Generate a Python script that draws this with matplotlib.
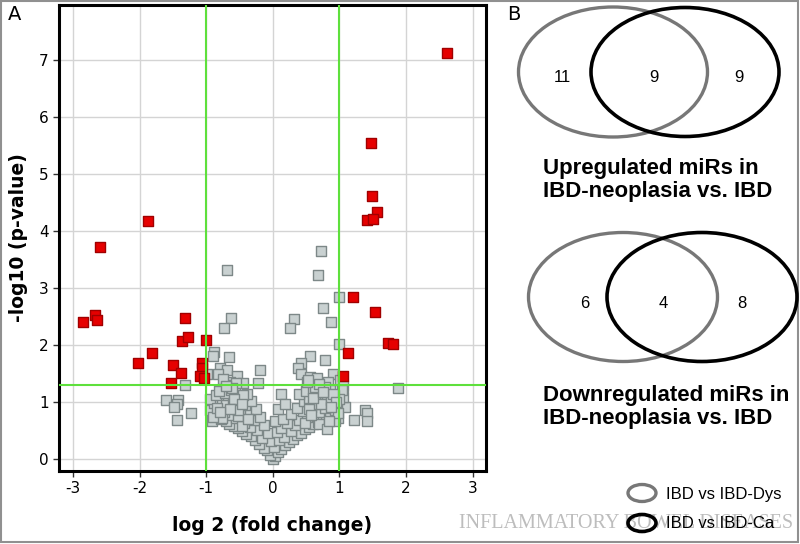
import matplotlib.pyplot as plt
from matplotlib.patches import Ellipse, Rectangle

plt.rcParams['axes.unicode_minus'] = False

# significant miRs (red)
red_x = [2.61, 1.47, 1.49, 1.57, 1.41, 1.50, -1.88, -2.59, 1.20,
         -2.85, -2.67, -2.64, -1.32, -1.36, -1.27, -1.00, -1.82, -2.03,
         -1.50, -1.38, -1.53, -1.06, -1.07, -1.10, -1.04, 1.53, 1.73,
         1.80, 1.13, 1.05]
red_y = [7.12, 5.55, 4.61, 4.33, 4.20, 4.22, 4.17, 3.73, 2.84,
         2.41, 2.53, 2.44, 2.48, 2.07, 2.14, 2.09, 1.86, 1.69,
         1.65, 1.51, 1.34, 1.69, 1.60, 1.46, 1.42, 2.58, 2.04,
         2.02, 1.86, 1.46]

# not significant (grey): isolated points
grey_x = [-0.69, 0.72, 0.68, 0.99, 0.75, -0.63, -0.74, 0.32, 0.26, 0.88,
          0.99, -0.88, -0.90, -0.66, 0.56, 0.78, 0.42, 0.38, -0.20, -0.80,
          -0.69, -0.83, -0.54, -0.99, -0.22, -0.45, -0.65, 0.43, 0.56, 0.90,
          1.01, 0.83, 1.05, -1.32, 1.88, 0.13, -1.60, -1.42, -1.44, -1.49,
          -1.23, -1.44, 1.38, 1.41, 1.41, 1.22, 1.08, 1.05, 1.04, 0.98,
          -0.92, -0.83, -0.77]
grey_y = [3.32, 3.65, 3.23, 2.85, 2.65, 2.48, 2.30, 2.46, 2.30, 2.41,
          2.02, 1.88, 1.80, 1.79, 1.80, 1.74, 1.69, 1.60, 1.56, 1.60,
          1.56, 1.49, 1.46, 1.49, 1.33, 1.33, 1.36, 1.49, 1.44, 1.49,
          1.39, 1.36, 1.28, 1.30, 1.24, 1.14, 1.04, 1.04, 0.97, 0.92,
          0.81, 0.69, 0.86, 0.81, 0.66, 0.69, 0.92, 1.09, 1.21, 0.72,
          0.66, 0.94, 1.09]

# dense V-shaped core
core_x = [0.00, 0.04, -0.04, 0.08, -0.09, 0.13, -0.14, 0.02, 0.19, -0.21,
          0.24, -0.03, 0.09, -0.27, 0.30, -0.16, 0.17, -0.33, 0.36, -0.40,
          0.42, -0.08, 0.06, -0.46, 0.27, -0.24, 0.48, -0.52, 0.12, -0.35,
          0.55, -0.58, 0.33, -0.13, 0.61, -0.66, 0.22, -0.44, 0.68, -0.71,
          0.04, 0.40, -0.29, 0.74, -0.78, 0.15, -0.55, 0.51, -0.19, 0.80,
          -0.84, 0.60, -0.62, 0.28, -0.38, 0.86, -0.90, 0.70, -0.74, 0.45,
          -0.50, 0.93, -0.95, 0.08, -0.26, 0.36, 0.78, -0.82, 0.58, -0.65,
          0.96, -0.42, 0.19, 0.66, -0.88, 0.88, -0.58, 0.47, -0.33, 0.72,
          -0.76, 0.99, -0.94, 0.55, -0.48, 0.82, -0.68, 0.64, -0.85, 0.92,
          -0.39, 0.39, -0.72, 0.75, -0.57, 0.50, -0.81, 0.86, -0.63, 0.61,
          -0.46, 0.69, -0.77, 0.94, -0.53, 0.81, -0.70, 0.55, -0.90, 0.98,
          -0.60, 0.73, -0.45, 0.63, -0.84, 0.88, -0.67, 0.52, -0.75, 0.79,
          -0.56, 0.67, -0.38, 0.90, -0.62, 0.48, -0.52, 0.58, 0.84, -0.70,
          -0.58, 0.70, 0.95, -0.47, 0.60, -0.64, 0.76, 0.53, -0.80, 0.87]
core_y = [0.00, 0.05, 0.07, 0.12, 0.15, 0.18, 0.20, 0.22, 0.25, 0.26,
          0.30, 0.31, 0.33, 0.34, 0.36, 0.37, 0.38, 0.40, 0.42, 0.44,
          0.45, 0.46, 0.48, 0.49, 0.50, 0.51, 0.52, 0.54, 0.55, 0.56,
          0.57, 0.58, 0.59, 0.60, 0.61, 0.62, 0.63, 0.64, 0.65, 0.66,
          0.67, 0.68, 0.69, 0.70, 0.70, 0.71, 0.72, 0.73, 0.74, 0.75,
          0.76, 0.77, 0.78, 0.79, 0.80, 0.80, 0.81, 0.82, 0.83, 0.84,
          0.85, 0.86, 0.86, 0.87, 0.88, 0.89, 0.90, 0.91, 0.92, 0.93,
          0.94, 0.95, 0.96, 0.97, 0.98, 0.99, 1.00, 1.01, 1.02, 1.03,
          1.04, 1.05, 1.06, 1.07, 1.08, 1.09, 1.10, 1.11, 1.12, 1.13,
          1.14, 1.15, 1.16, 1.17, 1.18, 1.19, 1.20, 1.21, 1.22, 1.23,
          0.58, 0.62, 0.72, 0.66, 0.76, 0.52, 0.94, 0.88, 0.74, 0.80,
          0.98, 0.96, 1.12, 1.26, 0.90, 1.04, 1.30, 1.36, 1.40, 1.27,
          1.34, 1.42, 0.70, 1.14, 1.24, 0.64, 0.86, 0.78, 0.66, 1.28,
          1.06, 1.32, 1.00, 0.96, 1.08, 0.88, 1.18, 1.38, 0.82, 0.92]

grey_x = grey_x + core_x
grey_y = grey_y + core_y

venn_up = ['11', '9', '9']
venn_down = ['6', '4', '8']
legend_labels = ['IBD vs IBD-Dys', 'IBD vs IBD-Ca']

fig = plt.figure(figsize=(8, 5.44), dpi=100)
ax = fig.add_axes([59 / 800, 1 - 471 / 544, 427 / 800, 466 / 544])

ax.scatter(grey_x, grey_y, marker='s', s=62, c='#c9d1d1', edgecolors='#7d8888',
           linewidths=1.0, zorder=3)
ax.scatter(red_x, red_y, marker='s', s=62, c='#e60000', edgecolors='#a00000',
           linewidths=1.0, zorder=4)

ax.axvline(-1, color='#5ee03c', lw=1.5, zorder=5)
ax.axvline(1, color='#5ee03c', lw=1.5, zorder=5)
ax.axhline(1.3, color='#5ee03c', lw=1.5, zorder=5)

ax.set_xlim(-3.21, 3.2)
ax.set_ylim(-0.21, 7.97)
ax.set_xticks(range(-3, 4))
ax.set_yticks(range(0, 8))
ax.grid(True, color='#d4d4d4', lw=1.0, zorder=0)
ax.set_axisbelow(True)
for s in ax.spines.values():
    s.set_linewidth(2.2)
    s.set_color('black')
ax.tick_params(direction='out', length=4, width=1, labelsize=11, color='#333333')
ax.set_xlabel('log 2 (fold change)', fontsize=13.5, fontweight='bold', labelpad=14)
ax.set_ylabel('-log10 (p-value)', fontsize=13.5, fontweight='bold', labelpad=8)

# overlay in pixel coordinates for panel B, labels and frame
ov = fig.add_axes([0, 0, 1, 1], zorder=10)
ov.set_xlim(0, 800)
ov.set_ylim(544, 0)
ov.axis('off')
ov.patch.set_alpha(0)

ov.add_patch(Rectangle((1, 1), 797, 541, fill=False, ec='#909090', lw=1.5))
ov.text(8, 14, 'A', fontsize=14, va='center', ha='left')
ov.text(507, 14, 'B', fontsize=14, va='center', ha='left')

sans = 'Liberation Sans'
gray_c = '#777777'

# upregulated venn
ov.add_patch(Ellipse((613, 72), 189, 130, fill=False, ec=gray_c, lw=2.4))
ov.add_patch(Ellipse((685, 72), 188, 129, fill=False, ec='black', lw=2.6))
for xp, t in zip([562, 654, 739], venn_up):
    ov.text(xp, 78, t, fontsize=12, family=sans, ha='center', va='center')
ov.text(543, 180, 'Upregulated miRs in\nIBD-neoplasia vs. IBD', fontsize=16,
        family=sans, fontweight='bold', ha='left', va='center', linespacing=1.15)

# downregulated venn
ov.add_patch(Ellipse((623, 297), 189, 129, fill=False, ec=gray_c, lw=2.4))
ov.add_patch(Ellipse((702, 297), 190, 129, fill=False, ec='black', lw=2.6))
for xp, t in zip([585, 663, 742], venn_down):
    ov.text(xp, 303, t, fontsize=12, family=sans, ha='center', va='center')
ov.text(543, 407, 'Downregulated miRs in\nIBD-neoplasia vs. IBD', fontsize=16,
        family=sans, fontweight='bold', ha='left', va='center', linespacing=1.15)

# watermark
ov.text(626, 523, 'INFLAMMATORY BOWEL DISEASES', fontsize=14.5, family='Liberation Serif',
        color='#bdbdbd', ha='center', va='center', zorder=1)

# legend
ov.add_patch(Ellipse((642, 493), 28, 17, fill=False, ec=gray_c, lw=2.4, zorder=2))
ov.add_patch(Ellipse((642, 523), 28, 17, fill=False, ec='black', lw=2.6, zorder=2))
ov.text(666, 494, legend_labels[0], fontsize=12, family=sans, ha='left', va='center', zorder=3)
ov.text(666, 524, legend_labels[1], fontsize=12, family=sans, ha='left', va='center', zorder=3)

fig.savefig('out.png', dpi=100)
